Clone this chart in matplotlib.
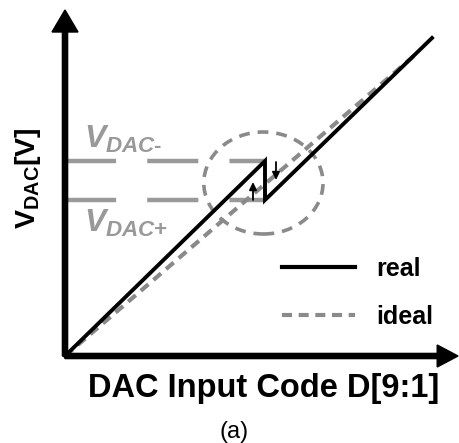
import matplotlib
matplotlib.use("Agg")
import matplotlib.pyplot as plt
from matplotlib.patches import Ellipse
from matplotlib.lines import Line2D

plt.rcParams["font.family"] = ["Liberation Sans", "DejaVu Sans"]
plt.rcParams["mathtext.fontset"] = "custom"
plt.rcParams["mathtext.rm"] = "Liberation Sans:bold"
plt.rcParams["mathtext.it"] = "Liberation Sans:bold:italic"
plt.rcParams["mathtext.bf"] = "Liberation Sans:bold"

# DAC transfer curve with an offset step at the MSB transition
real_code = [0.0, 5.0, 5.0, 9.175]
real_v = [0.0, 4.875, 3.9, 7.95]
ideal_code = [0.0, 8.75]
ideal_v = [0.0, 7.525]

step_code = 5.0
v_dac_minus = 4.875
v_dac_plus = 3.9

# zoom circle around the step
circle_center = (4.96, 4.325)
circle_width, circle_height = 2.98, 2.55

BLACK = "#000000"
GRAY = "#999999"
DGRAY = "#8a8a8a"

fig = plt.figure(figsize=(4.59, 4.43), dpi=100)
ax = fig.add_axes([0, 0, 1, 1])
ax.set_xlim(-1.625, 9.85)
ax.set_ylim(-2.175, 8.9)
ax.axis("off")

# reference levels
for lvl in (v_dac_minus, v_dac_plus):
    ax.plot([0, step_code], [lvl, lvl], color=GRAY, lw=3.2,
            dashes=(11.5, 7.0), solid_capstyle="butt", zorder=1)

ax.add_patch(Ellipse(circle_center, circle_width, circle_height, fill=False,
                     edgecolor=DGRAY, lw=2.6, ls=(0, (3, 2.2)), zorder=2))

ax.plot(ideal_code, ideal_v, color=DGRAY, lw=3.0, dashes=(2.4, 1.6), zorder=3)
ax.plot(real_code, real_v, color=BLACK, lw=2.8, solid_joinstyle="miter", zorder=4)

# small arrows showing the step direction
arrow_style = dict(arrowstyle="-|>,head_length=0.45,head_width=0.22",
                   color=BLACK, lw=1.3, shrinkA=0, shrinkB=0)
ax.annotate("", xy=(5.275, 4.4), xytext=(5.275, 4.85), arrowprops=arrow_style,
            zorder=5)
ax.annotate("", xy=(4.7, 4.35), xytext=(4.7, 3.9), arrowprops=arrow_style,
            zorder=5)

# axes with arrow heads
ax.arrow(0, 0, 0, 8.65, width=0.13, head_width=0.65, head_length=0.55,
         length_includes_head=True, color=BLACK, zorder=6)
ax.arrow(0, 0, 9.825, 0, width=0.13, head_width=0.55, head_length=0.52,
         length_includes_head=True, color=BLACK, zorder=6)

ax.text(0.48, v_dac_minus + 0.15, r"$V_{DAC\text{-}}$", color=GRAY, fontsize=23,
        ha="left", va="bottom")
ax.text(0.48, v_dac_plus - 0.2, r"$V_{DAC\text{+}}$", color=GRAY, fontsize=23,
        ha="left", va="top")

ax.text(-0.92, 4.45, r"$\mathrm{V_{DAC}[V]}$", rotation=90, fontsize=20.5,
        ha="center", va="center", color=BLACK)
ax.text(4.96, -0.8, "DAC Input Code D[9:1]", fontsize=23.5, fontweight="bold",
        ha="center", va="center", color=BLACK)
ax.text(4.225, -1.9, "(a)", fontsize=17, ha="center", va="center", color=BLACK)

handles = [Line2D([], [], color=BLACK, lw=3.0),
           Line2D([], [], color=DGRAY, lw=3.0, dashes=(2.4, 1.6))]
ax.legend(handles, ["real", "ideal"], loc="upper left",
          bbox_to_anchor=(282 / 459, 1 - 257 / 443), frameon=False,
          prop=dict(size=18, weight="bold"), handlelength=2.9,
          handletextpad=0.85, labelspacing=0.95, borderpad=0, borderaxespad=0)

fig.savefig("out.png", dpi=100)
